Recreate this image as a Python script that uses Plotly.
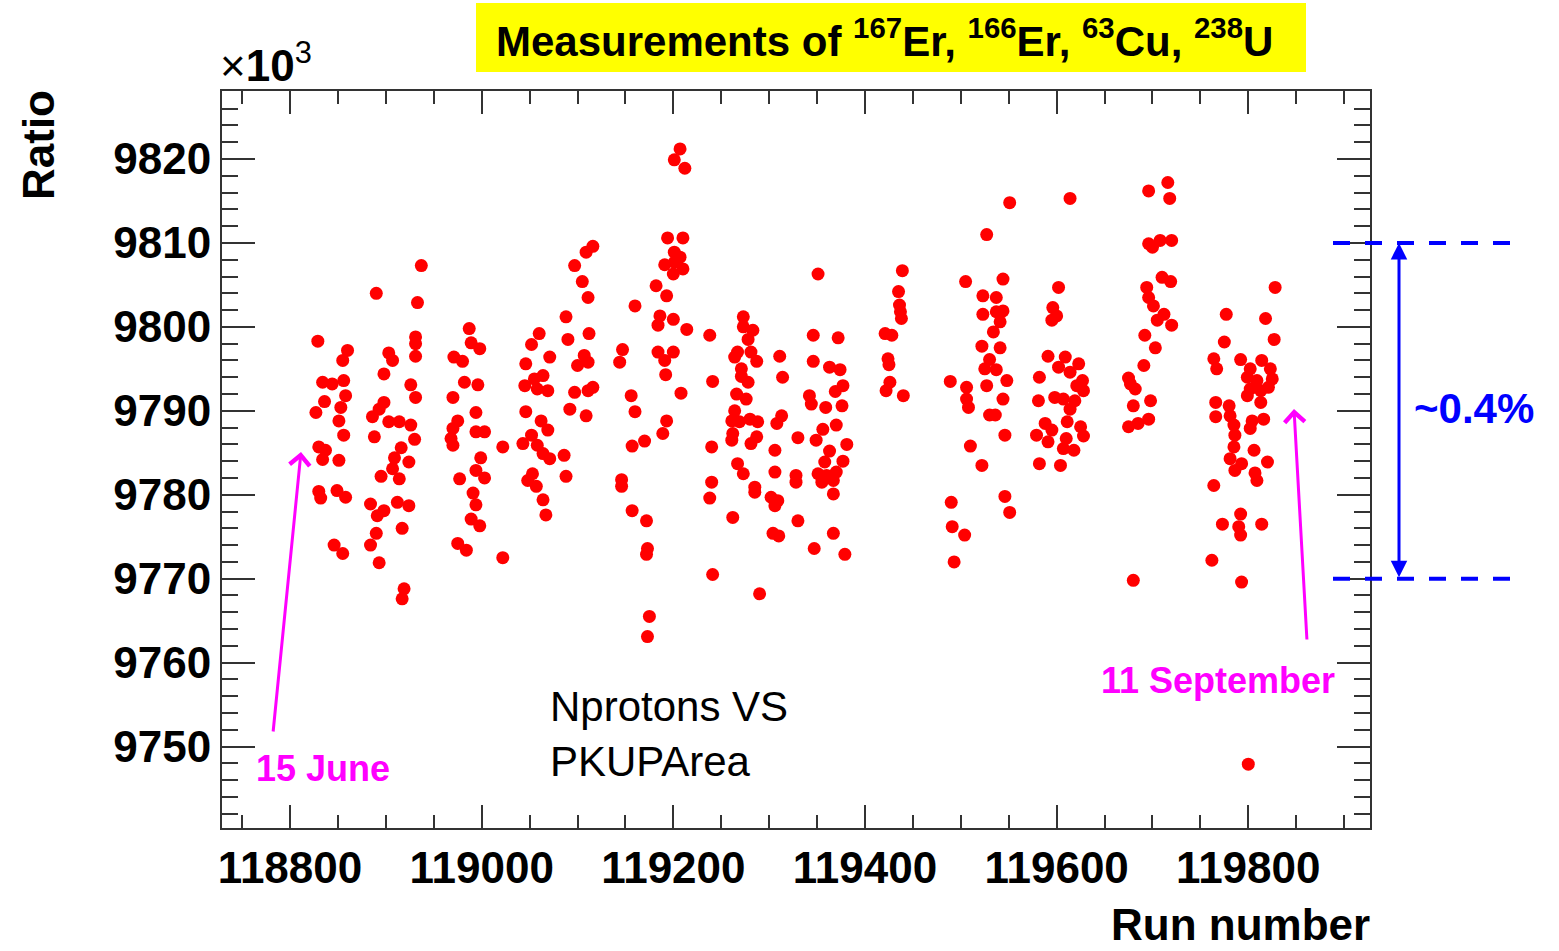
import plotly.graph_objects as go

# ---------------- data (run number, ratio/1e3) ----------------
cluster_a = [(118937,9807.3),(118890,9804.0),(118933,9802.9),(118987,9799.8),(118829,9798.3),(118931,9798.8),(118931,9798.0),(118989,9798.1),(118998,9797.4),(118860,9797.2),(118903,9796.9),(118855,9796.0),(118907,9796.0),(118931,9796.5),(118971,9796.4),(118980,9795.9),(118898,9794.4),(118834,9793.4),(118844,9793.2),(118856,9793.6),(118926,9793.1),(118982,9793.4),(118996,9793.1),(118858,9791.8),(118931,9791.6),(118970,9791.6),(118836,9791.1),(118898,9791.0),(118853,9790.4),(118827,9789.8),(118893,9790.2),(118994,9789.8),(118975,9788.8),(118886,9789.3),(118903,9788.7),(118914,9788.7),(118926,9788.3),(118851,9788.8),(118970,9787.9),(118994,9787.5),(119003,9787.5),(118968,9786.7),(118888,9786.9),(118856,9787.1),(118930,9786.6),(118970,9785.9),(118830,9785.7),(118837,9785.3),(118916,9785.6),(119022,9785.7),(118834,9784.2),(118851,9784.1),(118909,9784.4),(118924,9783.9),(118999,9784.4),(118907,9783.1),(118994,9782.9),(119003,9782.0),(118895,9782.2),(118914,9781.9),(118977,9781.9),(118830,9780.4),(118832,9779.6),(118849,9780.5),(118858,9779.7),(118991,9780.2),(118884,9778.9),(118898,9778.1),(118912,9779.1),(118924,9778.7),(118891,9777.5),(118994,9778.8),(118989,9777.1),(118998,9776.3),(118917,9776.0),(118890,9775.4),(118884,9774.0),(118846,9774.0),(118855,9773.0),(118975,9774.2),(118984,9773.4),(118893,9771.9),(119022,9772.5),(118919,9768.8),(118917,9767.6)]

cluster_b = [(119109,9808.9),(119116,9809.6),(119097,9807.3),(119105,9805.4),(119111,9803.5),(119088,9801.2),(119060,9799.2),(119052,9797.9),(119090,9798.5),(119112,9799.2),(119071,9796.4),(119046,9795.6),(119107,9796.6),(119100,9795.4),(119111,9795.8),(119064,9794.2),(119055,9793.8),(119045,9793.0),(119058,9792.6),(119069,9792.4),(119097,9792.2),(119116,9792.8),(119111,9792.4),(119046,9789.9),(119092,9790.2),(119109,9789.4),(119062,9788.8),(119069,9787.7),(119052,9787.1),(119043,9786.1),(119058,9785.9),(119064,9784.9),(119071,9784.3),(119086,9784.7),(119053,9782.5),(119048,9781.7),(119057,9781.0),(119088,9782.2),(119064,9779.4),(119067,9777.6)]

cluster_c = [(119207,9821.2),(119201,9819.9),(119212,9818.9),(119194,9810.6),(119210,9810.6),(119201,9808.9),(119207,9808.3),(119191,9807.4),(119201,9807.7),(119210,9806.9),(119200,9806.3),(119182,9804.9),(119193,9803.7),(119160,9802.5),(119186,9801.3),(119184,9800.2),(119200,9800.9),(119214,9799.7),(119147,9797.3),(119144,9795.8),(119184,9797.0),(119200,9797.0),(119191,9796.0),(119192,9794.3),(119156,9791.8),(119160,9789.9),(119208,9792.1),(119193,9788.8),(119189,9787.3),(119157,9785.8),(119170,9786.4),(119146,9781.8),(119146,9781.0),(119157,9778.1),(119172,9776.9),(119173,9773.6),(119172,9772.9),(119175,9765.5),(119173,9763.1)]

cluster_d = [(119238,9799.0),(119273,9801.2),(119273,9800.0),(119283,9799.6),(119278,9798.5),(119267,9797.0),(119281,9797.0),(119264,9796.4),(119287,9795.9),(119271,9795.0),(119271,9794.1),(119278,9793.4),(119266,9792.0),(119276,9791.4),(119264,9790.0),(119261,9788.8),(119269,9788.7),(119280,9789.0),(119288,9788.7),(119262,9787.3),(119261,9786.5),(119287,9786.9),(119281,9786.1),(119241,9793.5),(119240,9785.7),(119311,9796.5),(119314,9794.0),(119313,9789.4),(119308,9788.5),(119306,9785.3),(119330,9786.8),(119267,9783.7),(119273,9782.5),(119240,9781.5),(119238,9779.6),(119285,9780.9),(119285,9780.3),(119306,9782.7),(119302,9779.7),(119309,9779.3),(119306,9778.7),(119328,9782.3),(119328,9781.5),(119262,9777.3),(119304,9775.4),(119310,9775.1),(119330,9776.9),(119241,9770.5),(119290,9768.2),(119346,9799.0),(119372,9798.7),(119346,9795.9),(119363,9795.2),(119374,9794.9),(119377,9793.0),(119369,9792.3),(119342,9791.8),(119344,9790.8),(119359,9790.4),(119376,9790.6),(119370,9788.3),(119356,9787.8),(119349,9786.5),(119381,9786.0),(119363,9785.2),(119377,9784.0),(119358,9783.9),(119351,9782.5),(119360,9782.3),(119370,9782.7),(119355,9781.5),(119367,9781.7),(119367,9780.1),(119367,9775.4),(119347,9773.6),(119379,9772.9),(119351,9806.3)]

cluster_e = [(119421,9799.2),(119428,9799.0),(119439,9806.7),(119435,9804.2),(119436,9802.6),(119437,9801.8),(119438,9801.0),(119424,9796.2),(119425,9795.5),(119426,9793.4),(119422,9792.4),(119440,9791.8),(119505,9805.4),(119544,9805.7),(119523,9803.7),(119537,9803.5),(119523,9801.5),(119537,9801.8),(119544,9801.9),(119541,9800.6),(119534,9799.4),(119522,9797.7),(119541,9797.5),(119530,9796.1),(119525,9795.0),(119537,9794.9),(119548,9793.6),(119527,9793.0),(119489,9793.5),(119506,9792.8),(119506,9791.4),(119508,9790.4),(119544,9791.4),(119530,9789.5),(119536,9789.5),(119546,9787.1),(119510,9785.8),(119522,9783.5),(119490,9779.1),(119491,9776.2),(119504,9775.2),(119493,9772.0),(119546,9779.8),(119551,9777.9),(119551,9814.8),(119527,9811.0)]

cluster_f = [(119614,9815.3),(119602,9804.7),(119596,9802.3),(119600,9801.3),(119595,9800.8),(119591,9796.5),(119609,9796.4),(119602,9795.2),(119614,9794.6),(119582,9794.0),(119621,9793.0),(119581,9791.2),(119598,9791.6),(119607,9791.4),(119614,9790.2),(119611,9788.7),(119579,9787.1),(119595,9787.7),(119591,9786.3),(119607,9785.5),(119618,9785.3),(119582,9783.7),(119604,9783.5),(119627,9793.6),(119628,9792.4),(119619,9791.2),(119625,9788.1),(119628,9787.0),(119588,9788.5),(119623,9795.6),(119610,9786.7)]

cluster_g = [(119696,9816.2),(119716,9817.2),(119718,9815.3),(119700,9809.5),(119708,9810.3),(119720,9810.3),(119696,9809.9),(119710,9805.9),(119719,9805.4),(119694,9804.7),(119696,9803.5),(119701,9802.5),(119712,9801.5),(119705,9800.8),(119720,9800.2),(119692,9799.0),(119703,9797.5),(119691,9795.4),(119675,9793.9),(119682,9792.6),(119680,9790.6),(119698,9791.2),(119675,9788.1),(119685,9788.5),(119696,9789.0),(119680,9769.8),(119677,9793.2)]

cluster_h = [(119828,9804.7),(119777,9801.5),(119818,9801.0),(119827,9798.5),(119775,9798.2),(119764,9796.2),(119767,9795.0),(119792,9796.1),(119814,9796.0),(119823,9795.0),(119802,9795.0),(119799,9794.0),(119809,9793.6),(119825,9793.8),(119802,9792.6),(119813,9792.4),(119821,9792.8),(119799,9791.8),(119813,9791.0),(119766,9791.0),(119780,9790.6),(119766,9789.3),(119781,9789.4),(119804,9788.8),(119816,9789.0),(119785,9788.3),(119802,9787.9),(119786,9787.1),(119785,9785.7),(119806,9785.3),(119781,9784.3),(119793,9783.7),(119820,9783.9),(119786,9782.9),(119807,9782.6),(119809,9781.7),(119764,9781.1),(119792,9777.7),(119773,9776.5),(119790,9776.2),(119814,9776.5),(119792,9775.2),(119762,9772.2),(119793,9769.6),(119800,9747.9)]

x_ticks = [118800, 119000, 119200, 119400, 119600, 119800]
y_ticks = [9750, 9760, 9770, 9780, 9790, 9800, 9810, 9820]
band_top, band_bottom = 9810, 9770

all_pts = cluster_a + cluster_b + cluster_c + cluster_d + cluster_e + cluster_f + cluster_g + cluster_h
runs = [p[0] for p in all_pts]
ratios = [p[1] for p in all_pts]

# ---------------- layout helpers (pixel -> paper) ----------------
W, H = 1559, 951
L, R, T, B = 222, 1370, 91, 828
def pxx(x): return (x - L) / (R - L)
def pxy(y): return (B - y) / (B - T)

FONT = "Liberation Sans, Arial, Helvetica, sans-serif"
AX = "#333333"

fig = go.Figure()
fig.add_trace(go.Scatter(
    x=runs, y=ratios, mode="markers",
    marker=dict(size=13, color="#ff0000", line=dict(width=0)),
    showlegend=False, hoverinfo="x+y"))

axis_common = dict(showgrid=False, zeroline=False, showline=True, linecolor=AX,
                   linewidth=2, mirror="allticks", ticks="inside", tickcolor=AX,
                   tickwidth=2, tickfont=dict(family=FONT, size=44, color="black", weight="bold"))

fig.update_xaxes(range=[118729, 119927], tickvals=x_ticks, ticktext=[str(v) for v in x_ticks],
                 ticklen=23,
                 minor=dict(dtick=50, tick0=118800, ticklen=13, tickwidth=2, tickcolor=AX, ticks="inside"),
                 **axis_common)
fig.update_yaxes(range=[9740.3, 9828.1], tickvals=y_ticks, ticktext=[str(v) for v in y_ticks],
                 ticklen=33,
                 minor=dict(dtick=2, tick0=9750, ticklen=16, tickwidth=2, tickcolor=AX, ticks="inside"),
                 **axis_common)

shapes = [
    dict(type="rect", xref="paper", yref="paper", x0=pxx(476), x1=pxx(1306), y0=pxy(72), y1=pxy(3),
         fillcolor="#ffff00", line=dict(width=0), layer="below"),
    dict(type="line", xref="paper", yref="y", x0=pxx(1333), x1=pxx(1514), y0=band_top, y1=band_top,
         line=dict(color="#0000ff", width=4, dash="17px,15px")),
    dict(type="line", xref="paper", yref="y", x0=pxx(1333), x1=pxx(1514), y0=band_bottom, y1=band_bottom,
         line=dict(color="#0000ff", width=4, dash="17px,15px")),
]

ann = []
# title
ann.append(dict(xref="paper", yref="paper", x=pxx(884), y=pxy(38), xanchor="center", yanchor="middle",
                text="Measurements of <sup>167</sup>Er, <sup>166</sup>Er, <sup>63</sup>Cu, <sup>238</sup>U",
                showarrow=False, font=dict(family=FONT, size=42, color="black", weight="bold")))
# axis titles
ann.append(dict(xref="paper", yref="paper", x=pxx(38), y=pxy(145), xanchor="center", yanchor="middle",
                text="Ratio", textangle=-90, showarrow=False,
                font=dict(family=FONT, size=44, color="black", weight="bold")))
ann.append(dict(xref="paper", yref="paper", x=pxx(1372), y=pxy(924), xanchor="right", yanchor="middle",
                text="Run number", showarrow=False,
                font=dict(family=FONT, size=44, color="black", weight="bold")))
ann.append(dict(xref="paper", yref="paper", x=pxx(218), y=pxy(62), xanchor="left", yanchor="middle",
                text="×<b>10</b><sup>3</sup>", showarrow=False,
                font=dict(family=FONT, size=44, color="black")))
# text box
ann.append(dict(xref="paper", yref="paper", x=pxx(548), y=pxy(734), xanchor="left", yanchor="middle",
                text="Nprotons VS<br>PKUPArea", align="left", showarrow=False,
                font=dict(family=FONT, size=42, color="black")))
# dates
ann.append(dict(xref="paper", yref="paper", x=pxx(323), y=pxy(768), xanchor="center", yanchor="middle",
                text="15 June", showarrow=False,
                font=dict(family=FONT, size=36, color="#ff00ff", weight="bold")))
ann.append(dict(xref="paper", yref="paper", x=pxx(1218), y=pxy(680), xanchor="center", yanchor="middle",
                text="11 September", showarrow=False,
                font=dict(family=FONT, size=36, color="#ff00ff", weight="bold")))
ann.append(dict(xref="paper", yref="paper", x=pxx(301), y=pxy(452), text="", showarrow=True,
                axref="pixel", ayref="pixel", ax=-28, ay=281, arrowhead=4, arrowsize=1.3,
                arrowwidth=3, arrowcolor="#ff00ff", standoff=0))
ann.append(dict(xref="paper", yref="paper", x=pxx(1294), y=pxy(409), text="", showarrow=True,
                axref="pixel", ayref="pixel", ax=13, ay=232, arrowhead=4, arrowsize=1.3,
                arrowwidth=3, arrowcolor="#ff00ff", standoff=0))
# blue span arrow + label
ann.append(dict(xref="paper", yref="y", x=pxx(1399), y=band_top, text="", showarrow=True,
                axref="pixel", ayref="y", ax=0, ay=band_bottom, arrowhead=2, arrowside="end+start",
                arrowsize=1.1, arrowwidth=3, arrowcolor="#0000ff", standoff=0, startstandoff=0))
ann.append(dict(xref="paper", yref="paper", x=pxx(1474), y=pxy(408), xanchor="center", yanchor="middle",
                text="~0.4%", showarrow=False,
                font=dict(family=FONT, size=42, color="#0000ff", weight="bold")))

fig.update_layout(width=W, height=H, margin=dict(l=L, r=W - R, t=T, b=H - B),
                  paper_bgcolor="white", plot_bgcolor="white",
                  shapes=shapes, annotations=ann, showlegend=False)

fig.write_html("out.html")
